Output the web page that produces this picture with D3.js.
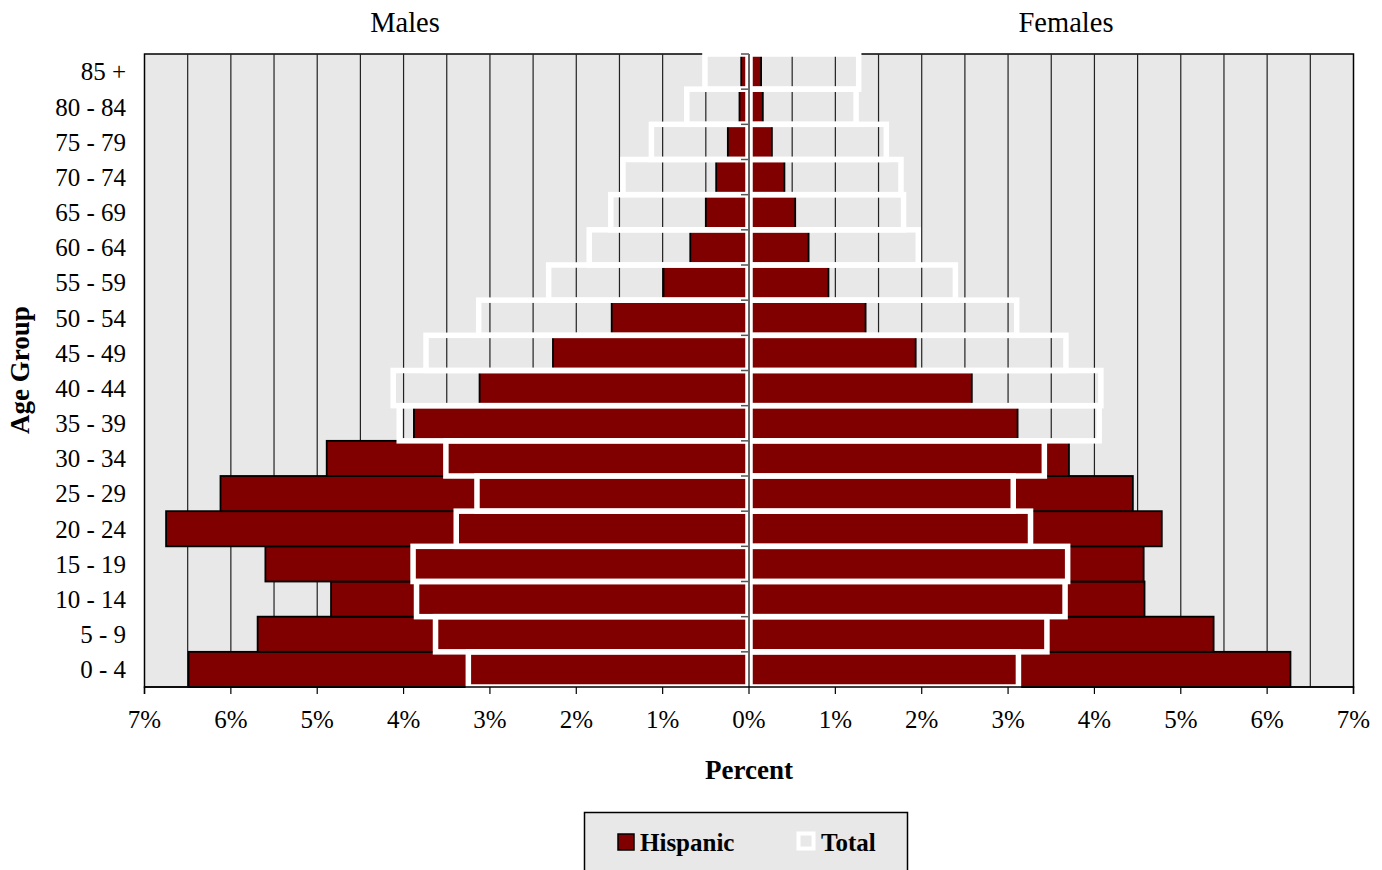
<!DOCTYPE html>
<html>
<head>
<meta charset="utf-8">
<script src="https://cdn.jsdelivr.net/npm/d3@7"></script>
<style>
  body { margin: 0; background: #fff; }
  text { font-family: "Liberation Serif", "Times New Roman", serif; fill: #000; }
</style>
</head>
<body>
<div id="chart"></div>
<script>
// age groups, bottom to top
var ageGroups = ["0 - 4", "5 - 9", "10 - 14", "15 - 19", "20 - 24", "25 - 29", "30 - 34", "35 - 39",
    "40 - 44", "45 - 49", "50 - 54", "55 - 59", "60 - 64", "65 - 69", "70 - 74", "75 - 79", "80 - 84", "85 +"];

// percent of population
var hispanicMale   = [6.49, 5.69, 4.84, 5.60, 6.75, 6.12, 4.89, 3.88, 3.12, 2.27, 1.59, 0.99, 0.68, 0.50, 0.38, 0.245, 0.11, 0.09];
var hispanicFemale = [6.27, 5.38, 4.58, 4.57, 4.78, 4.445, 3.705, 3.11, 2.58, 1.93, 1.35, 0.92, 0.69, 0.535, 0.41, 0.265, 0.16, 0.14];
var totalMale      = [3.25, 3.63, 3.85, 3.89, 3.39, 3.15, 3.51, 4.05, 4.12, 3.74, 3.13, 2.32, 1.85, 1.60, 1.46, 1.13, 0.72, 0.51];
var totalFemale    = [3.12, 3.45, 3.66, 3.69, 3.26, 3.06, 3.42, 4.055, 4.075, 3.67, 3.10, 2.39, 1.96, 1.79, 1.76, 1.59, 1.24, 1.27];

var xTicks = [-7, -6, -5, -4, -3, -2, -1, 0, 1, 2, 3, 4, 5, 6, 7];

var width = 1382, height = 870;
var plotLeft = 144.5, plotRight = 1353.5, plotTop = 54, plotBottom = 687;

var svg = d3.select("#chart").append("svg")
    .attr("width", width)
    .attr("height", height);

var x = d3.scaleLinear().domain([-7, 7]).range([plotLeft, plotRight]);
var y = d3.scaleBand().domain(ageGroups.slice().reverse()).range([plotTop, plotBottom]).padding(0);

var rows = ageGroups.map(function(g, i) {
    return {age: g, hm: hispanicMale[i], hf: hispanicFemale[i], tm: totalMale[i], tf: totalFemale[i]};
});

// plot background + frame
svg.append("rect")
    .attr("x", plotLeft).attr("y", plotTop)
    .attr("width", plotRight - plotLeft).attr("height", plotBottom - plotTop)
    .attr("fill", "#e8e8e8")
    .attr("stroke", "#000")
    .attr("stroke-width", 1.5);

// gridlines every half percent
svg.append("g").selectAll("line")
    .data(d3.range(-13, 14).map(function(k) { return k / 2; }).filter(function(v) { return v !== 0; }))
    .enter().append("line")
    .attr("x1", function(d) { return x(d); })
    .attr("x2", function(d) { return x(d); })
    .attr("y1", plotTop).attr("y2", plotBottom)
    .attr("stroke", "#222")
    .attr("stroke-width", 1.2);

// hispanic bars
var hisp = svg.append("g");
hisp.selectAll(".hm").data(rows).enter().append("rect")
    .attr("x", function(d) { return x(-d.hm); })
    .attr("y", function(d) { return y(d.age); })
    .attr("width", function(d) { return x(0) - x(-d.hm); })
    .attr("height", y.bandwidth())
    .attr("fill", "#800000")
    .attr("stroke", "#000")
    .attr("stroke-width", 1.8);
hisp.selectAll(".hf").data(rows).enter().append("rect")
    .attr("x", x(0))
    .attr("y", function(d) { return y(d.age); })
    .attr("width", function(d) { return x(d.hf) - x(0); })
    .attr("height", y.bandwidth())
    .attr("fill", "#800000")
    .attr("stroke", "#000")
    .attr("stroke-width", 1.8);

// total bars (white outlines)
var tot = svg.append("g");
tot.selectAll(".tm").data(rows).enter().append("rect")
    .attr("x", function(d) { return x(-d.tm); })
    .attr("y", function(d) { return y(d.age); })
    .attr("width", function(d) { return x(0) - 1 - x(-d.tm); })
    .attr("height", y.bandwidth())
    .attr("fill", "none")
    .attr("stroke", "#fff")
    .attr("stroke-width", 5.5);
tot.selectAll(".tf").data(rows).enter().append("rect")
    .attr("x", x(0) + 1)
    .attr("y", function(d) { return y(d.age); })
    .attr("width", function(d) { return x(d.tf) - x(0) - 1; })
    .attr("height", y.bandwidth())
    .attr("fill", "none")
    .attr("stroke", "#fff")
    .attr("stroke-width", 5.5);

// center axis with ticks to the left
var center = svg.append("g")
    .attr("transform", "translate(" + x(0) + ",0)")
    .call(d3.axisLeft(y).tickSize(8).tickFormat("").offset(0));
center.select(".domain").remove();
center.selectAll(".tick line")
    .attr("transform", "translate(0," + (-y.bandwidth() / 2) + ")")
    .attr("stroke", "#555")
    .attr("stroke-width", 1.5);
center.append("line")
    .attr("x1", 0).attr("x2", 0)
    .attr("y1", plotTop).attr("y2", plotBottom)
    .attr("stroke", "#666")
    .attr("stroke-width", 2);

// bottom axis
var xAxis = svg.append("g")
    .attr("transform", "translate(0," + plotBottom + ")")
    .call(d3.axisBottom(x).tickValues(xTicks).tickSize(7).tickPadding(16)
        .tickFormat(function(d) { return Math.abs(d) + "%"; }).offset(0));
xAxis.select(".domain").attr("stroke", "#000").attr("stroke-width", 1.5);
xAxis.selectAll(".tick line").attr("stroke", "#000").attr("stroke-width", 1.2);
xAxis.selectAll(".tick text")
    .attr("font-size", 25)
    .style("font-family", "Liberation Serif, Times New Roman, serif");

// age labels
svg.append("g").selectAll("text")
    .data(ageGroups).enter().append("text")
    .attr("x", 126)
    .attr("y", function(d) { return y(d) + y.bandwidth() / 2; })
    .attr("dy", "0.35em")
    .attr("text-anchor", "end")
    .attr("font-size", 25)
    .text(function(d) { return d; });

// titles
svg.append("text").attr("x", 405).attr("y", 32).attr("text-anchor", "middle")
    .attr("font-size", 28.5).text("Males");
svg.append("text").attr("x", 1066).attr("y", 32).attr("text-anchor", "middle")
    .attr("font-size", 28.5).text("Females");
svg.append("text").attr("x", x(0)).attr("y", 779).attr("text-anchor", "middle")
    .attr("font-size", 27).attr("font-weight", "bold").text("Percent");
svg.append("text")
    .attr("transform", "translate(29,370) rotate(-90)")
    .attr("text-anchor", "middle")
    .attr("font-size", 27).attr("font-weight", "bold").text("Age Group");

// legend
var legend = svg.append("g");
legend.append("rect")
    .attr("x", 584.5).attr("y", 812.5)
    .attr("width", 323).attr("height", 70)
    .attr("fill", "#e8e8e8")
    .attr("stroke", "#000").attr("stroke-width", 1.5);
legend.append("rect")
    .attr("x", 618).attr("y", 834).attr("width", 16).attr("height", 16)
    .attr("fill", "#800000").attr("stroke", "#000").attr("stroke-width", 1.5);
legend.append("text").attr("x", 640).attr("y", 851)
    .attr("font-size", 25).attr("font-weight", "bold").text("Hispanic");
legend.append("rect")
    .attr("x", 798.5).attr("y", 833.5).attr("width", 15).attr("height", 15)
    .attr("fill", "#e8e8e8").attr("stroke", "#fff").attr("stroke-width", 4);
legend.append("text").attr("x", 821).attr("y", 851)
    .attr("font-size", 25).attr("font-weight", "bold").text("Total");
</script>
</body>
</html>
